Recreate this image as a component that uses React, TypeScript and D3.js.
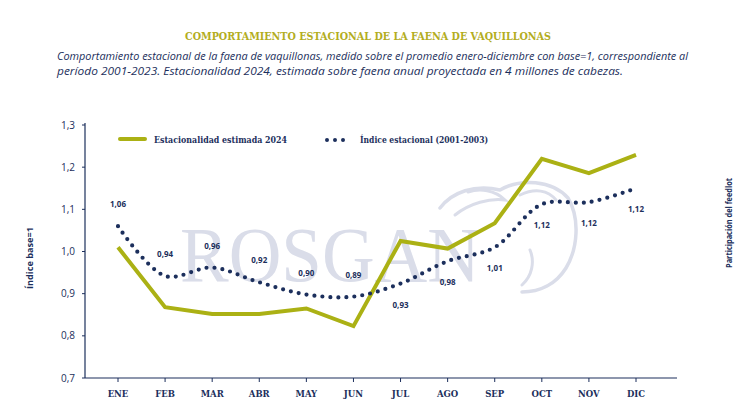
import React from "react";
import * as d3 from "d3";

const months = ["ENE", "FEB", "MAR", "ABR", "MAY", "JUN", "JUL", "AGO", "SEP", "OCT", "NOV", "DIC"];
const estimated2024 = [1.01, 0.868, 0.852, 0.852, 0.865, 0.823, 1.025, 1.007, 1.067, 1.22, 1.186, 1.229];
const seasonalIndex = [1.06, 0.942, 0.962, 0.927, 0.898, 0.893, 0.924, 0.977, 1.01, 1.112, 1.117, 1.15];
const seasonalLabels = ["1,06", "0,94", "0,96", "0,92", "0,90", "0,89", "0,93", "0,98", "1,01", "1,12", "1,12", "1,12"];
const yTicks = [0.7, 0.8, 0.9, 1.0, 1.1, 1.2, 1.3];

const NAVY = "#1c2f5c";
const GREEN = "#abb114";
const TITLE = "#b3ad1e";
const WM = "#dadde9";

export default function App() {
  const W = 750, H = 417;
  const x = d3.scalePoint<string>().domain(months).range([118, 636]);
  const y = d3.scaleLinear().domain([0.7, 1.3]).range([378, 125]);

  const greenLine = d3.line<number>()
    .x((_, i) => x(months[i]) as number)
    .y((d) => y(d));
  const dotLine = d3.line<number>()
    .x((_, i) => x(months[i]) as number)
    .y((d) => y(d))
    .curve(d3.curveCatmullRom.alpha(0.5));

  const fmt = (v: number) => v.toFixed(1).replace(".", ",");

  return (
    <svg width={W} height={H} style={{ position: "absolute", left: 0, top: 0, background: "#fff" }}>
      <rect width={W} height={H} fill="#fff" />
      {/* watermark */}
      <g>
        <text x={180} y={281} fontFamily="Liberation Serif, serif" fontSize={78} fill={WM} textLength={300} lengthAdjust="spacingAndGlyphs">ROSGAN</text>
        <path d="M440,208 C452,192 475,184 500,190 C520,178 552,180 568,198 C580,218 578,248 566,268 C556,284 540,292 522,292"
          fill="none" stroke={WM} strokeWidth={3.5} strokeLinecap="round" />
        <path d="M455,215 C470,203 490,198 505,200 C495,190 480,188 468,192" fill="none" stroke={WM} strokeWidth={3} strokeLinecap="round" />
        <path d="M520,195 C535,188 548,190 556,200" fill="none" stroke={WM} strokeWidth={3} strokeLinecap="round" />
        <path d="M530,250 C535,262 532,276 522,285" fill="none" stroke={WM} strokeWidth={3} strokeLinecap="round" />
      </g>

      {/* titles */}
      <text x={368} y={40} textAnchor="middle" fontFamily="DejaVu Serif, serif" fontWeight="bold" fontSize={11} fill={TITLE} textLength={366} lengthAdjust="spacingAndGlyphs">COMPORTAMIENTO ESTACIONAL DE LA FAENA DE VAQUILLONAS</text>
      <text x={57} y={60} fontFamily="Open Sans, sans-serif" fontStyle="italic" fontSize={11} fill={NAVY} textLength={631} lengthAdjust="spacingAndGlyphs">Comportamiento estacional de la faena de vaquillonas, medido sobre el promedio enero-diciembre con base=1, correspondiente al</text>
      <text x={57} y={75} fontFamily="Open Sans, sans-serif" fontStyle="italic" fontSize={11} fill={NAVY} textLength={566} lengthAdjust="spacingAndGlyphs">período 2001-2023. Estacionalidad 2024, estimada sobre faena anual proyectada en 4 millones de cabezas.</text>

      {/* axes */}
      <line x1={85} x2={85} y1={123} y2={378} stroke={NAVY} strokeWidth={1.2} />
      <line x1={85} x2={677} y1={378} y2={378} stroke={NAVY} strokeWidth={1.2} />
      {yTicks.map((t) => (
        <g key={t}>
          <line x1={82} x2={85} y1={y(t)} y2={y(t)} stroke={NAVY} strokeWidth={1} />
          <text x={75} y={y(t) + 3.5} textAnchor="end" fontFamily="Open Sans, sans-serif" fontSize={10} fill={NAVY}>{fmt(t)}</text>
        </g>
      ))}
      {months.map((m) => (
        <g key={m}>
          <line x1={x(m)} x2={x(m)} y1={378} y2={382} stroke={NAVY} strokeWidth={1} />
          <text x={x(m)} y={397} textAnchor="middle" fontFamily="DejaVu Serif, serif" fontWeight="bold" fontSize={8.5} fill={NAVY}>{m}</text>
        </g>
      ))}
      <text transform="translate(33,258) rotate(-90)" textAnchor="middle" fontFamily="Open Sans, sans-serif" fontWeight="bold" fontSize={8.5} fill={NAVY} textLength={62} lengthAdjust="spacingAndGlyphs">Índice base=1</text>
      <text transform="translate(732,223) rotate(-90)" textAnchor="middle" fontFamily="Open Sans, sans-serif" fontWeight="bold" fontSize={8.5} fill={NAVY} textLength={90} lengthAdjust="spacingAndGlyphs">Participación del feedlot</text>

      {/* legend */}
      <line x1={120} x2={145} y1={139} y2={139} stroke={GREEN} strokeWidth={4} strokeLinecap="round" />
      <text x={154} y={143} fontFamily="DejaVu Serif, serif" fontWeight="bold" fontSize={9} fill={NAVY} textLength={133} lengthAdjust="spacingAndGlyphs">Estacionalidad estimada 2024</text>
      <line x1={327} x2={351} y1={140} y2={140} stroke={NAVY} strokeWidth={4} strokeLinecap="round" strokeDasharray="0 8" />
      <text x={360} y={143} fontFamily="DejaVu Serif, serif" fontWeight="bold" fontSize={9} fill={NAVY} textLength={128} lengthAdjust="spacingAndGlyphs">Índice estacional (2001-2003)</text>

      {/* series */}
      <path d={greenLine(estimated2024) || ""} fill="none" stroke={GREEN} strokeWidth={4} strokeLinejoin="miter" />
      <path d={dotLine(seasonalIndex) || ""} fill="none" stroke={NAVY} strokeWidth={4.2} strokeLinecap="round" strokeDasharray="0 8" />

      {/* labels */}
      {seasonalLabels.map((l, i) => {
        const above = i < 6;
        return (
          <text key={i} x={x(months[i])} y={y(seasonalIndex[i]) + (above ? -19 : 24)} textAnchor="middle"
            fontFamily="Open Sans, sans-serif" fontWeight="bold" fontSize={8} fill={NAVY}>{l}</text>
        );
      })}
    </svg>
  );
}
